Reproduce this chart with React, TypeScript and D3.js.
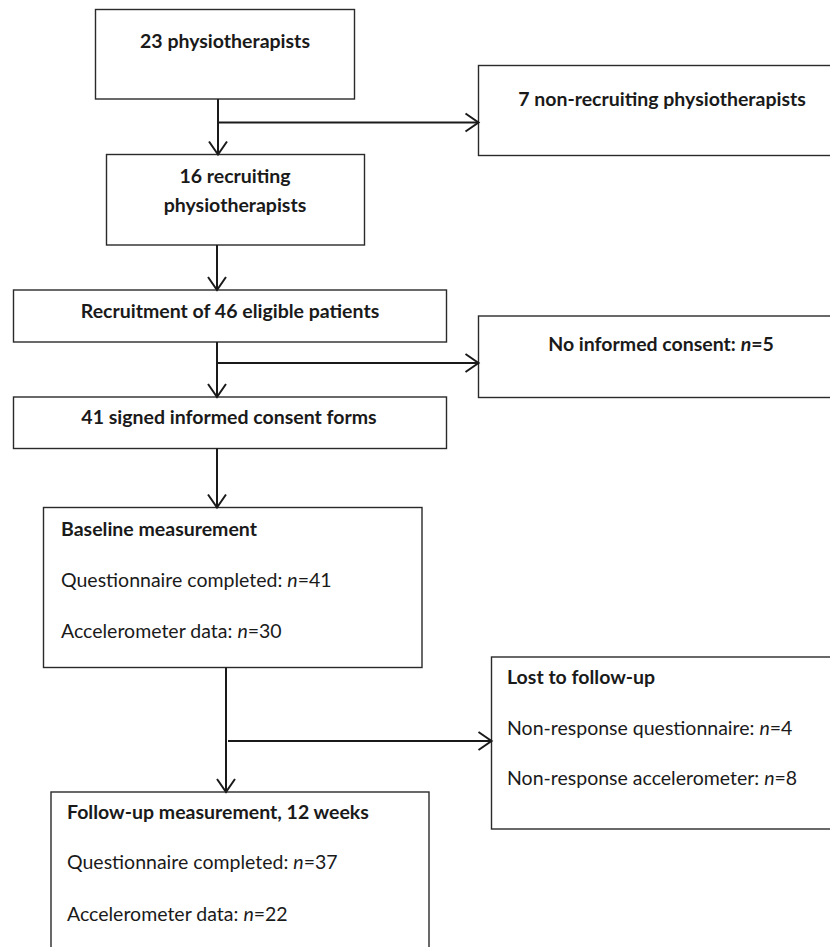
import React from "react";
import * as d3 from "d3";

// ---- content ----
type Line = { text: string; bold: boolean };
const box1Lines: Line[] = [{ text: "23 physiotherapists", bold: true }];
const box2Lines: Line[] = [{ text: "7 non-recruiting physiotherapists", bold: true }];
const box3Lines: Line[] = [
  { text: "16 recruiting", bold: true },
  { text: "physiotherapists", bold: true },
];
const box4Lines: Line[] = [{ text: "Recruitment of 46 eligible patients", bold: true }];
const box5Lines: Line[] = [{ text: "No informed consent: n=5", bold: true }];
const box6Lines: Line[] = [{ text: "41 signed informed consent forms", bold: true }];
const box7Lines: Line[] = [
  { text: "Baseline measurement", bold: true },
  { text: "Questionnaire completed: n=41", bold: false },
  { text: "Accelerometer data: n=30", bold: false },
];
const box8Lines: Line[] = [
  { text: "Lost to follow-up", bold: true },
  { text: "Non-response questionnaire: n=4", bold: false },
  { text: "Non-response accelerometer: n=8", bold: false },
];
const box9Lines: Line[] = [
  { text: "Follow-up measurement, 12 weeks", bold: true },
  { text: "Questionnaire completed: n=37", bold: false },
  { text: "Accelerometer data: n=22", bold: false },
];

// ---- layout ----
type Box = {
  x: number; y: number; w: number; h: number;
  lines: Line[]; align: "middle" | "start"; tx: number; baselines: number[];
};
const boxes: Box[] = [
  { x: 95.5, y: 9.5, w: 259, h: 89.5, lines: box1Lines, align: "middle", tx: 225, baselines: [48] },
  { x: 478.5, y: 65.5, w: 368, h: 90, lines: box2Lines, align: "middle", tx: 662, baselines: [106] },
  { x: 106.5, y: 154.5, w: 258, h: 90.5, lines: box3Lines, align: "middle", tx: 235, baselines: [183, 212] },
  { x: 13.5, y: 290, w: 433, h: 52, lines: box4Lines, align: "middle", tx: 230, baselines: [318] },
  { x: 478.5, y: 316, w: 368, h: 81.5, lines: box5Lines, align: "middle", tx: 661, baselines: [351] },
  { x: 13.5, y: 397, w: 433, h: 51.5, lines: box6Lines, align: "middle", tx: 229, baselines: [424] },
  { x: 43.5, y: 507.5, w: 378.5, h: 160, lines: box7Lines, align: "start", tx: 61, baselines: [536, 587, 638] },
  { x: 491.5, y: 657, w: 360, h: 172, lines: box8Lines, align: "start", tx: 507, baselines: [684, 735, 785] },
  { x: 51, y: 792, w: 378, h: 200, lines: box9Lines, align: "start", tx: 67, baselines: [819, 869, 921] },
];

type Arrow = { x1: number; y1: number; x2: number; y2: number };
const arrows: Arrow[] = [
  { x1: 218, y1: 99, x2: 218, y2: 154.5 },
  { x1: 218, y1: 122.5, x2: 478.5, y2: 122.5 },
  { x1: 217, y1: 245, x2: 217, y2: 290 },
  { x1: 217, y1: 342, x2: 217, y2: 397 },
  { x1: 217, y1: 363, x2: 478.5, y2: 363 },
  { x1: 217, y1: 448.5, x2: 217, y2: 507.5 },
  { x1: 226, y1: 667.5, x2: 226, y2: 792 },
  { x1: 228, y1: 741, x2: 491.5, y2: 741 },
];

const FONT = "Lato, 'Open Sans', sans-serif";
const FS = 19.5;
const STROKE = "#2a2a2a";

function renderText(t: string) {
  const parts = t.split(/(\bn)(?==)/);
  return parts.map((p, i) =>
    p === "n" ? (
      <tspan key={i} fontStyle="italic">n</tspan>
    ) : (
      <tspan key={i}>{p}</tspan>
    )
  );
}

function arrowHead(a: Arrow) {
  const ang = Math.atan2(a.y2 - a.y1, a.x2 - a.x1);
  const len = 15.8;
  const half = 0.605;
  const p1: [number, number] = [a.x2 - len * Math.cos(ang - half), a.y2 - len * Math.sin(ang - half)];
  const p2: [number, number] = [a.x2 - len * Math.cos(ang + half), a.y2 - len * Math.sin(ang + half)];
  return d3.line()([p1, [a.x2, a.y2], p2]) || "";
}

export default function App() {
  const W = 830;
  const H = 947;
  return (
    <svg
      width={W}
      height={H}
      style={{ position: "absolute", left: 0, top: 0, background: "#fff" }}
      fontFamily={FONT}
    >
      <rect x={0} y={0} width={W} height={H} fill="#fff" />
      {boxes.map((b, i) => (
        <g key={i}>
          <rect x={b.x} y={b.y} width={b.w} height={b.h} fill="#fff" stroke={STROKE} strokeWidth={1.4} />
          {b.lines.map((l, j) => (
            <text
              key={j}
              x={b.tx}
              y={b.baselines[j]}
              textAnchor={b.align}
              fontSize={FS}
              fontWeight={l.bold ? 700 : 400}
              fill="#1a1a1a"
            >
              {renderText(l.text)}
            </text>
          ))}
        </g>
      ))}
      {arrows.map((a, i) => (
        <g key={i} stroke="#1a1a1a" strokeWidth={2} fill="none">
          <path d={d3.line()([[a.x1, a.y1], [a.x2, a.y2]]) || ""} />
          <path d={arrowHead(a)} strokeLinejoin="miter" />
        </g>
      ))}
    </svg>
  );
}
